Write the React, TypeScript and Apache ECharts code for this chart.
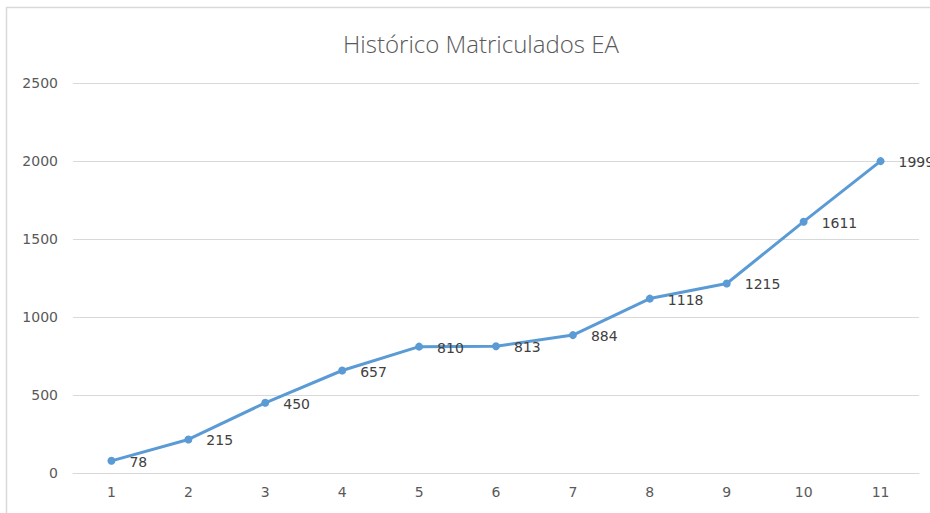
import React, { useEffect, useRef } from "react";
import * as echarts from "echarts";

const categories = ["1", "2", "3", "4", "5", "6", "7", "8", "9", "10", "11"];
const values = [78, 215, 450, 657, 810, 813, 884, 1118, 1215, 1611, 1999];
const titleText = "Histórico Matriculados EA";

export default function App() {
  const ref = useRef<HTMLDivElement>(null);
  useEffect(() => {
    document.body.style.margin = "0";
    const chart = echarts.init(ref.current!, null, { renderer: "svg" });
    chart.setOption({
      animation: false,
      backgroundColor: "#ffffff",
      title: {
        text: titleText,
        left: 476,
        top: 26,
        textAlign: "center",
        textStyle: {
          fontFamily: "Open Sans",
          fontSize: 24,
          fontWeight: 300,
          color: "#595959",
        },
      },
      graphic: [
        {
          type: "rect",
          shape: { x: 6.5, y: 7.5, width: 1000, height: 1000 },
          style: { fill: "none", stroke: "#d9d9d9", lineWidth: 1.5 },
          silent: true,
        },
      ],
      grid: { left: 73, top: 83, width: 846, height: 390 },
      xAxis: {
        type: "category",
        data: categories,
        boundaryGap: true,
        axisLine: { show: true, lineStyle: { color: "#d9d9d9", width: 1 } },
        axisTick: { show: false },
        axisLabel: {
          color: "#595959",
          fontFamily: "DejaVu Sans",
          fontSize: 14,
          margin: 12,
        },
      },
      yAxis: {
        type: "value",
        min: 0,
        max: 2500,
        interval: 500,
        axisLine: { show: false },
        axisTick: { show: false },
        splitLine: { lineStyle: { color: "#d9d9d9", width: 1 } },
        axisLabel: {
          color: "#595959",
          fontFamily: "DejaVu Sans",
          fontSize: 14,
          margin: 15,
          formatter: (v: number) => String(v),
        },
      },
      series: [
        {
          type: "line",
          data: values,
          symbol: "circle",
          symbolSize: 8,
          showAllSymbol: true,
          lineStyle: { color: "#5b9bd5", width: 3 },
          itemStyle: { color: "#5b9bd5" },
          label: {
            show: true,
            position: "right",
            distance: 14,
            offset: [0, 1],
            color: "#404040",
            fontFamily: "DejaVu Sans",
            fontSize: 14,
          },
        },
      ],
    });
    return () => chart.dispose();
  }, []);
  return <div ref={ref} style={{ width: 930, height: 513 }} />;
}
